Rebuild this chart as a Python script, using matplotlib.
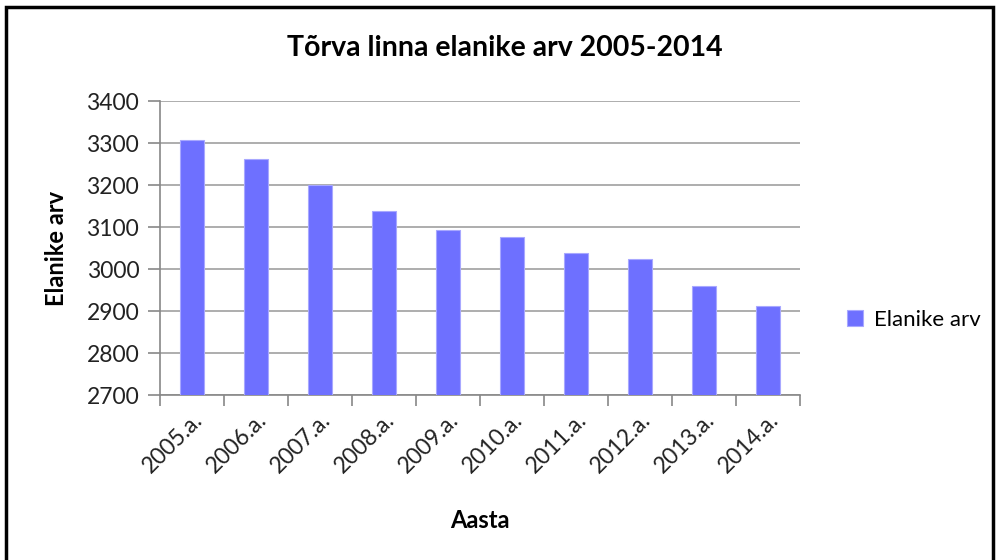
import matplotlib.pyplot as plt
from matplotlib.patches import Rectangle

# Andmed
aastad = ["2005.a.", "2006.a.", "2007.a.", "2008.a.", "2009.a.",
          "2010.a.", "2011.a.", "2012.a.", "2013.a.", "2014.a."]
elanikud = [3306, 3263, 3200, 3137, 3092, 3077, 3037, 3025, 2960, 2911]

plt.rcParams['font.family'] = ['Lato', 'DejaVu Sans']

fig = plt.figure(figsize=(9.96, 5.6), dpi=100)
ax = fig.add_axes([160 / 996, 1 - 395 / 560, 640 / 996, 294 / 560])

x = range(len(aastad))
ax.bar(x, elanikud, width=0.39, color="#6E70FF", edgecolor="#A8A8FF",
       linewidth=0.8, label="Elanike arv", zorder=3)

ax.set_xlim(-0.5, len(aastad) - 0.5)
ax.set_ylim(2700, 3400)
ax.set_yticks(range(2700, 3401, 100))
ax.grid(axis="y", color="#A0A0A0", linewidth=1.2, zorder=0)

# x tikid kategooriate vahel
ax.set_xticks([i - 0.5 for i in range(len(aastad) + 1)], minor=False)
ax.set_xticklabels([])
ax.set_xticks(list(x), minor=True)
ax.set_xticklabels(aastad, minor=True, rotation=45, ha="right",
                   rotation_mode="anchor", fontsize=16.5, color="#222222")
ax.tick_params(axis="x", which="major", length=8, color="#888888", width=1.2)
ax.tick_params(axis="x", which="minor", length=0, pad=10)
ax.tick_params(axis="y", length=9, color="#888888", width=1.2, labelsize=16.5,
               pad=6, labelcolor="#222222")

for side in ["top", "right"]:
    ax.spines[side].set_visible(False)
for side in ["left", "bottom"]:
    ax.spines[side].set_color("#888888")
    ax.spines[side].set_linewidth(1.2)

fig.text(505 / 996, 1 - 48 / 560, "Tõrva linna elanike arv 2005-2014",
         fontsize=20.5, fontweight="bold", ha="center", va="center")
fig.text(57 / 996, 1 - 248 / 560, "Elanike arv", fontsize=17,
         fontweight="bold", rotation=90, ha="center", va="center")
fig.text(480 / 996, 1 - 520 / 560, "Aasta", fontsize=17,
         fontweight="bold", ha="center", va="center")

fig.legend(loc="center left", bbox_to_anchor=(836 / 996, 1 - 320 / 560),
           frameon=False, fontsize=16, handlelength=0.7, handleheight=0.7,
           handletextpad=0.5, borderpad=0)

# raam ümber joonise
fig.patches.append(Rectangle((6 / 996, -0.05), 987 / 996, 1.05 - 7 / 560,
                             transform=fig.transFigure, fill=False,
                             edgecolor="black", linewidth=2.5))

plt.savefig("out.png", dpi=100)
